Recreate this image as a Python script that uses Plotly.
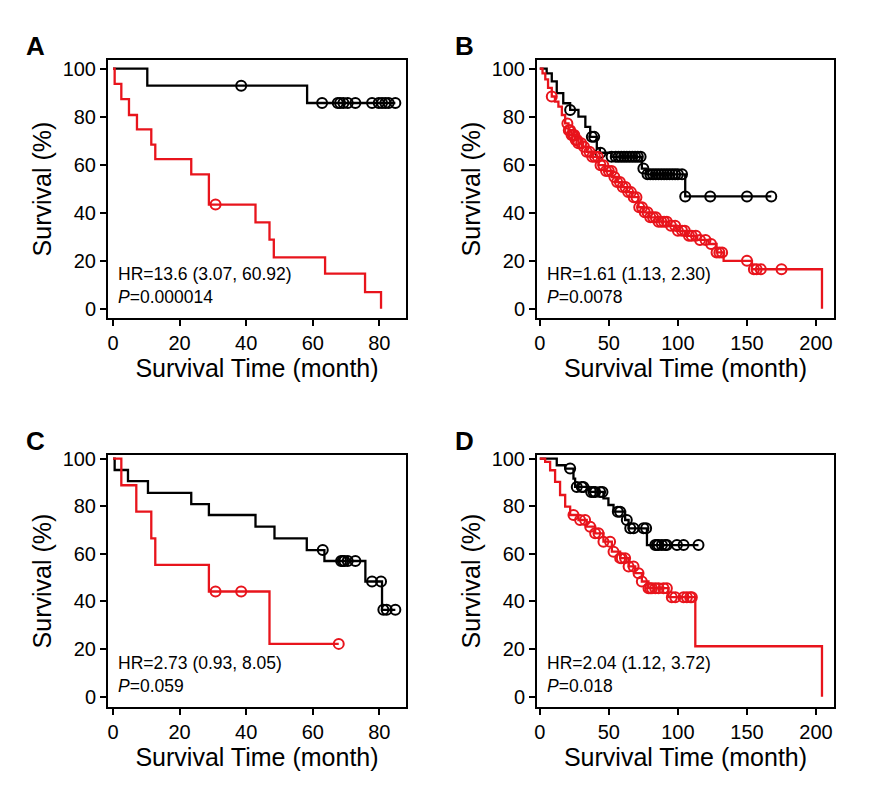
import numpy as np
import plotly.graph_objects as go

# ---- Data (time in months, survival %) ----
A_black_t = [0, 10.3, 58.3]
A_black_s = [100, 92.9, 85.7]
A_black_c = [38.5, 62.8, 67.5, 68.2, 69.2, 70.5, 72.8, 77.8, 79.8, 80.8, 81.8, 82.8, 84.8]
A_red_t = [0, 0.5, 2.5, 4.8, 7.2, 11.5, 12.7, 23.5, 28.8, 42.8, 47, 48.3, 63.7, 75.7, 80.5]
A_red_s = [100, 93.7, 87.3, 80.7, 74.7, 68.4, 62.3, 56, 43.4, 36, 28.8, 21.4, 14.7, 7, 0]
A_red_c = [30.8]

B_black_t = [0, 5, 8.7, 12.3, 17, 22, 28, 33, 36.5, 41.3, 43.5, 52, 73.9, 77, 105.3]
B_black_s = [100, 98, 94.7, 89.8, 85.6, 82.8, 80, 75.8, 71.6, 66.8, 65, 63.3, 58.4, 56, 46.8]
B_black_c = [22, 37.7, 39.4, 44, 52, 55, 57, 59, 61, 63, 65, 67, 69, 71, 73, 75, 78, 80, 82,
             84, 86, 88, 90, 92, 94, 96, 98, 100, 103, 105.3, 123.4, 150, 167.6]
B_red_t = [0, 2, 4, 6, 8.7, 11, 13.5, 16, 18.4, 20.8, 23, 25.6, 28, 30.4, 34, 37.7, 42.5, 47,
           52.2, 56, 59.4, 63, 66.7, 71.5, 75, 78.8, 86, 93.2, 99, 105.3, 114, 122.2, 128, 133.1, 153.6, 204.3]
B_red_s = [100, 98, 95.5, 92, 88.4, 86.3, 84.2, 80.7, 77.2, 74.4, 72.4, 70.3, 68.9, 67.5, 65.4, 63.3, 59.8, 57.4,
           54.9, 52.8, 50.7, 48.6, 46.5, 42.3, 40.2, 38.1, 36.3, 34.6, 32.5, 30.4, 28.7, 27, 23.5, 20, 16.5, 0]
B_red_c = [8.7, 20, 21, 22, 23, 24, 25, 26, 27, 28, 30, 32, 34, 36, 38, 40, 42, 44, 46, 48, 50, 52, 54, 56,
           58, 60, 62, 64, 66, 68, 70, 72, 74, 76, 78, 80, 82, 84, 86, 88, 90, 92, 95, 98, 100, 103,
           105, 108, 110, 113, 116, 120, 124, 128, 130, 132, 150, 155, 157, 160, 175]

C_black_t = [0, 0.5, 4.5, 10.5, 23.5, 28.8, 42.8, 48.5, 58.2, 63.5, 75.8, 80.8]
C_black_s = [100, 95.2, 90.5, 85.6, 80.9, 76.3, 71.4, 66.5, 61.6, 57, 48.4, 36.5]
C_black_c = [63, 68.5, 69, 69.5, 70.5, 72.8, 77.8, 80.5, 81.2, 82.2, 84.8]
C_red_t = [0, 2.5, 7, 11.5, 12.7, 28.8, 47]
C_red_s = [100, 88.8, 77.7, 66.5, 55.4, 44.2, 22.2]
C_red_c = [30.8, 38.5, 67.8]

D_black_t = [0, 12.3, 18.4, 24.4, 25.6, 35.7, 46.1, 49.7, 53.4, 61.8, 64.3, 77.6]
D_black_s = [100, 97.2, 95.8, 91.6, 88.1, 86, 83.3, 80.5, 77.7, 74.2, 70.7, 63.7]
D_black_c = [22, 26.8, 30.4, 31.6, 37.2, 38.9, 40.1, 43.7, 45.4, 56.5, 58.2, 63, 65.5, 67.9, 75.1, 77,
             83.6, 84.8, 86, 88.4, 90.8, 92, 99.3, 104.1, 114.9]
D_red_t = [0, 3.9, 7.5, 11.1, 14.7, 18.4, 22, 28, 34, 40.1, 46.1, 52.2, 58.2, 64.3, 69.1, 73.9, 78.7, 93.2, 112.6, 204.3]
D_red_s = [100, 98.6, 95.1, 90.2, 84.7, 79.8, 76.3, 74.2, 71.4, 68.6, 65.1, 60.9, 58.2, 54.7, 51.9, 48.4, 45.6, 41.8, 21.2, 0]
D_red_c = [24.4, 29.2, 32.8, 36.5, 40.1, 42.5, 46.1, 50.9, 53.4, 58.2, 59.4, 61.8, 64.3, 67.9, 71.5, 73.9,
           78.7, 79.9, 81.2, 83.6, 86, 89.6, 92, 95.6, 98.1, 104.1, 106.5, 108.9, 110.1]

labels = ["A", "B", "C", "D"]
hr_text = ["HR=13.6 (3.07, 60.92)<br><i>P</i>=0.000014",
           "HR=1.61 (1.13, 2.30)<br><i>P</i>=0.0078",
           "HR=2.73 (0.93, 8.05)<br><i>P</i>=0.059",
           "HR=2.04 (1.12, 3.72)<br><i>P</i>=0.018"]

panels = [
    (A_black_t, A_black_s, A_black_c, A_red_t, A_red_s, A_red_c),
    (B_black_t, B_black_s, B_black_c, B_red_t, B_red_s, B_red_c),
    (C_black_t, C_black_s, C_black_c, C_red_t, C_red_s, C_red_c),
    (D_black_t, D_black_s, D_black_c, D_red_t, D_red_s, D_red_c),
]

W, H = 869, 800
boxes = [(100, 52, 398, 310), (529, 52, 826, 310), (100, 447, 398, 699), (529, 447, 826, 699)]
xranges = [[-1.5, 88], [-2, 213], [-1.5, 88], [-2, 213]]
yranges = [[-3.8, 103.6], [-3.8, 103.6], [-4.3, 101.5], [-4.3, 101.5]]
xticks = [list(range(0, 81, 20)), list(range(0, 201, 50)), list(range(0, 81, 20)), list(range(0, 201, 50))]

RED = "#e8141c"
fig = go.Figure()
layout = {}

def step_at(t, s, x):
    i = np.searchsorted(np.array(t), x, side="right") - 1
    return np.array(s)[i]

for k, (bt, bs, bc, rt, rs, rc) in enumerate(panels):
    sx = "" if k == 0 else str(k + 1)
    for t, s, c, col in [(bt, bs, bc, "black"), (rt, rs, rc, RED)]:
        tend = max(max(t), max(c) if c else 0)
        xs = list(t) + ([tend] if tend > t[-1] else [])
        ys = list(s) + ([s[-1]] if tend > t[-1] else [])
        fig.add_trace(go.Scatter(x=xs, y=ys, mode="lines", line=dict(color=col, width=2.3, shape="hv"),
                                 xaxis="x" + sx, yaxis="y" + sx, showlegend=False))
        if c:
            fig.add_trace(go.Scatter(x=c, y=step_at(t, s, c), mode="markers",
                                     marker=dict(symbol="circle-open", size=10, color=col, line=dict(width=2, color=col)),
                                     xaxis="x" + sx, yaxis="y" + sx, showlegend=False))
    x0, y0, x1, y1 = boxes[k]
    common = dict(showline=True, linecolor="black", linewidth=2, mirror=True, ticks="outside",
                  ticklen=6, tickwidth=2, tickcolor="black", showgrid=False, zeroline=False, automargin=False,
                  tickfont=dict(size=20, color="black"))
    layout["xaxis" + sx] = dict(domain=[x0 / W, x1 / W], range=xranges[k], tickvals=xticks[k],
                                anchor="y" + sx, title=dict(text="Survival Time (month)", font=dict(size=25, color="black"), standoff=2), **common)
    layout["yaxis" + sx] = dict(domain=[1 - y1 / H, 1 - y0 / H], range=yranges[k], tickvals=list(range(0, 101, 20)),
                                anchor="x" + sx, title=dict(text="Survival (%)", font=dict(size=25, color="black"), standoff=4), **common)
    fig.add_annotation(x=(x0 - 84) / W, y=1 - (y0 - 14) / H, xref="paper", yref="paper", text="<b>%s</b>" % labels[k],
                       showarrow=False, font=dict(size=26, color="black"), xanchor="left", yanchor="middle")
    fig.add_annotation(x=(x0 + 8) / W, y=1 - (y1 - 9) / H, xref="paper", yref="paper", text=hr_text[k],
                       showarrow=False, font=dict(size=17.5, color="black"), xanchor="left", yanchor="bottom", align="left")

fig.update_layout(width=W, height=H, margin=dict(l=0, r=0, t=0, b=0), plot_bgcolor="white", paper_bgcolor="white",
                  font=dict(family="Liberation Sans, Arial, sans-serif", color="black"), **layout)
fig.write_html("out.html")
